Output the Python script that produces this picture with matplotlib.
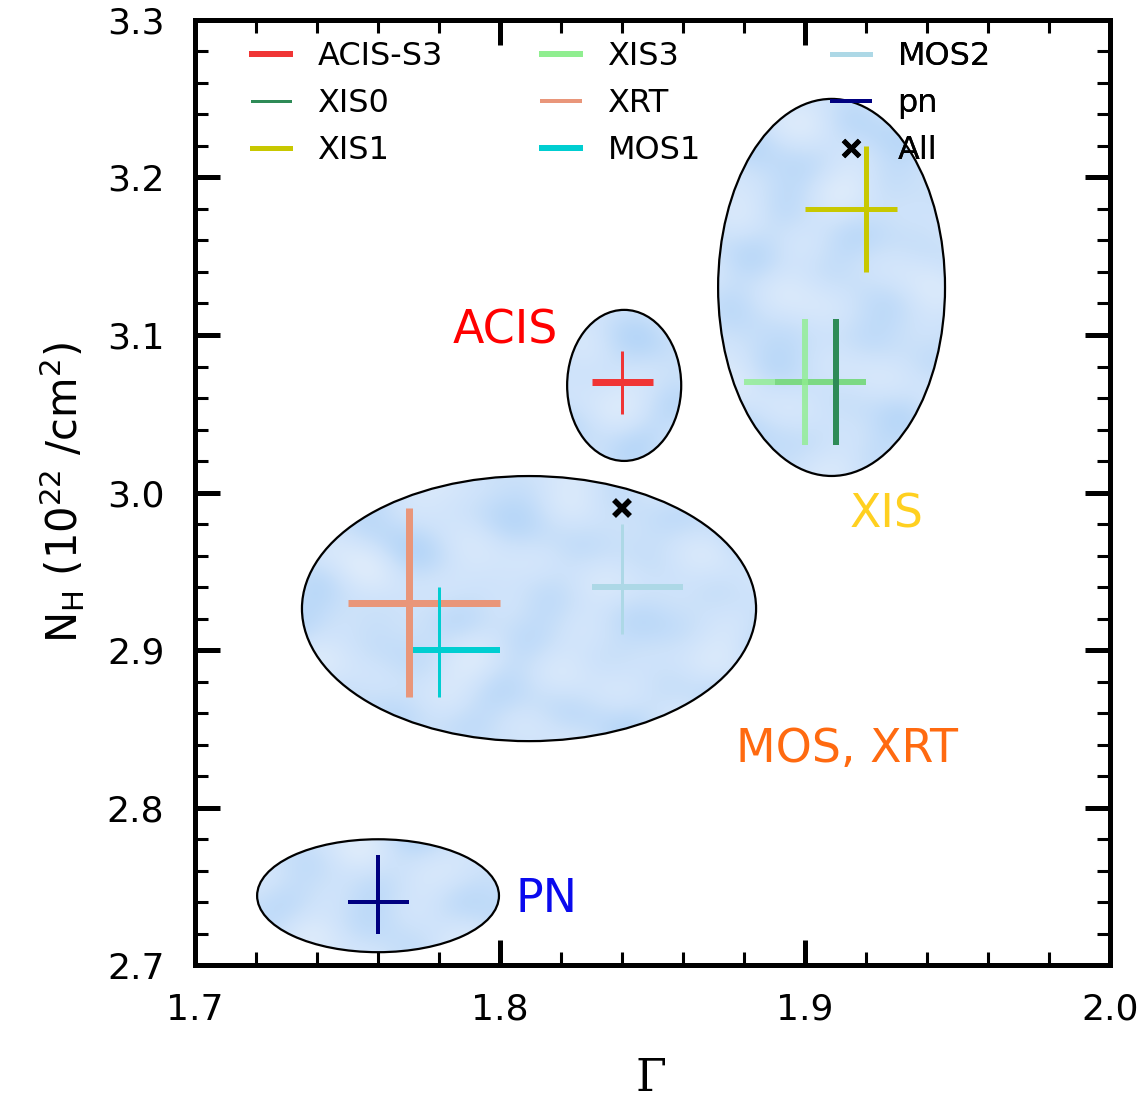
import numpy as np
import matplotlib
matplotlib.use("Agg")
import matplotlib.pyplot as plt
from matplotlib.patches import Ellipse
from matplotlib.lines import Line2D
from matplotlib.ticker import MultipleLocator
from matplotlib.colors import LinearSegmentedColormap

# ---------------- data ----------------
names = ['ACIS-S3', 'XIS0', 'XIS1', 'XIS3', 'XRT', 'MOS1', 'MOS2', 'pn']
gamma = [1.84, 1.91, 1.92, 1.90, 1.77, 1.78, 1.84, 1.76]
gamma_lo = [0.01, 0.02, 0.02, 0.02, 0.02, 0.01, 0.01, 0.01]
gamma_hi = [0.01, 0.01, 0.01, 0.02, 0.03, 0.02, 0.02, 0.01]
nh = [3.07, 3.07, 3.18, 3.07, 2.93, 2.90, 2.94, 2.74]
nh_lo = [0.02, 0.04, 0.04, 0.04, 0.06, 0.03, 0.03, 0.02]
nh_hi = [0.02, 0.04, 0.04, 0.04, 0.06, 0.04, 0.04, 0.03]

all_gamma = [1.84]
all_nh = [2.99]

# confidence regions (ellipses)
ell_cx = [1.760, 1.8095, 1.8407, 1.9087]
ell_cy = [2.744, 2.9263, 3.068, 3.1302]
ell_w = [0.0793, 0.1489, 0.0374, 0.0744]
ell_h = [0.0717, 0.1683, 0.0959, 0.2394]

group_labels = ['ACIS', 'XIS', 'MOS, XRT', 'PN']
group_x = [1.8018, 1.9267, 1.9138, 1.8151]
group_y = [3.0943, 2.9781, 2.8289, 2.7337]

x_ticks = [1.7, 1.8, 1.9, 2.0]
x_tick_labels = ['1.7', '1.8', '1.9', '2.0']
y_ticks = [2.7, 2.8, 2.9, 3.0, 3.1, 3.2, 3.3]
y_tick_labels = ['2.7', '2.8', '2.9', '3.0', '3.1', '3.2', '3.3']

# ---------------- style ----------------
colors = {'ACIS-S3': '#F03535', 'XIS0': '#2E8B57', 'XIS1': '#C8C800',
          'XIS3': '#90EE90', 'XRT': '#E9967A', 'MOS1': '#00CED1',
          'MOS2': '#ADD8E6', 'pn': '#000080'}
px = 0.72  # points per pixel at dpi 100
hbar_lw = {'ACIS-S3': 7, 'XIS0': 6, 'XIS1': 5, 'XIS3': 6, 'XRT': 7,
           'MOS1': 6, 'MOS2': 6, 'pn': 4}
vbar_lw = {'ACIS-S3': 3, 'XIS0': 6, 'XIS1': 5, 'XIS3': 6, 'XRT': 7,
           'MOS1': 3, 'MOS2': 3, 'pn': 4}
leg_lw = {'ACIS-S3': 6, 'XIS0': 3, 'XIS1': 5, 'XIS3': 6, 'XRT': 4,
          'MOS1': 6, 'MOS2': 5, 'pn': 4}
alphas = {'XIS3': 0.8}
group_colors = ['#FF0000', '#FFD020', '#FF6A10', '#0A0AEE']

fig = plt.figure(figsize=(11.4, 10.98), dpi=100)
ax = fig.add_axes([0.1711, 0.1211, 0.8026, 0.8607])
ax.set_xlim(1.7, 2.0)
ax.set_ylim(2.7, 3.3)

# cloudy texture for the ellipses (deterministic)
gx = np.linspace(1.7, 2.0, 600)
gy = np.linspace(2.7, 3.3, 600)
GX, GY = np.meshgrid((gx - 1.7) / 0.3 * 915, (gy - 2.7) / 0.6 * 945)
tex = (np.sin(GX / 19.0 + 1.3 * np.sin(GY / 33.0)) +
       np.sin(GY / 15.0 + 1.1 * np.sin(GX / 29.0) + 0.7) +
       0.7 * np.sin((GX + GY) / 23.0 + 2.1) +
       0.6 * np.sin((GX - 0.6 * GY) / 13.0 + 0.4) +
       0.4 * np.sin((0.3 * GX + GY) / 9.0 + 1.7))
cloud = LinearSegmentedColormap.from_list('cloud', ['#B6D6F8', '#CDE2FA', '#DDEBFB'])

for cx, cy, w, h in zip(ell_cx, ell_cy, ell_w, ell_h):
    e = Ellipse((cx, cy), w, h, facecolor='none', edgecolor='black',
                linewidth=1.6, zorder=3)
    ax.add_patch(e)
    im = ax.imshow(tex, extent=(1.7, 2.0, 2.7, 3.3), origin='lower',
                   cmap=cloud, aspect='auto', zorder=2, interpolation='bilinear')
    im.set_clip_path(e)

# error crosses: horizontal bars first, then vertical bars
for i, n in enumerate(names):
    ax.errorbar([gamma[i]], [nh[i]], xerr=[[gamma_lo[i]], [gamma_hi[i]]],
                fmt='none', ecolor=colors[n], elinewidth=hbar_lw[n] * px,
                capsize=0, alpha=alphas.get(n, 1.0), zorder=4)
for i, n in enumerate(names):
    ax.errorbar([gamma[i]], [nh[i]], yerr=[[nh_lo[i]], [nh_hi[i]]],
                fmt='none', ecolor=colors[n], elinewidth=vbar_lw[n] * px,
                capsize=0, alpha=alphas.get(n, 1.0), zorder=5)

ax.plot(all_gamma, all_nh, linestyle='none', marker='x', color='black',
        markersize=12, markeredgewidth=4, zorder=6)

for lab, x, y, c in zip(group_labels, group_x, group_y, group_colors):
    ax.text(x, y, lab, color=c, fontsize=33, ha='center', va='baseline', zorder=7)

# legends (three columns placed separately)
handles = [Line2D([], [], color=colors[n], lw=leg_lw[n] * px) for n in names]
handles.append(Line2D([], [], color='black', marker='x', linestyle='none',
                      markersize=11, markeredgewidth=3.5))
labels = names + ['All']
col_x = [0.0623, 0.3792, 0.6962]
for k in range(3):
    leg = ax.legend(handles[3 * k:3 * k + 3], labels[3 * k:3 * k + 3],
                    loc='upper left', bbox_to_anchor=(col_x[k], 0.978),
                    frameon=False, fontsize=23, handlelength=1.2,
                    handletextpad=0.85, labelspacing=0.5, borderpad=0,
                    borderaxespad=0)
    ax.add_artist(leg)

# axes styling
for s in ax.spines.values():
    s.set_linewidth(3.6)
ax.set_xticks(x_ticks)
ax.set_xticklabels(x_tick_labels)
ax.set_yticks(y_ticks)
ax.set_yticklabels(y_tick_labels)
ax.xaxis.set_minor_locator(MultipleLocator(0.02))
ax.yaxis.set_minor_locator(MultipleLocator(0.02))
ax.tick_params(which='both', direction='in', top=True, right=True, labelsize=26)
ax.tick_params(which='major', length=18, width=3.6)
ax.tick_params(which='minor', length=9.5, width=2.2)
ax.tick_params(axis='x', which='major', pad=20)
ax.tick_params(axis='y', which='major', pad=22)

ax.set_ylabel(r'N$_{\rm H}$ (10$^{22}$ /cm$^2$)', fontsize=30)
ax.yaxis.set_label_coords(-0.118, 0.5)
ax.set_xlabel('Γ', fontsize=32, family='DejaVu Serif')
ax.xaxis.label.set_va('baseline')
ax.xaxis.set_label_coords(0.498, -0.1335)

fig.savefig('out.png', dpi=100)
